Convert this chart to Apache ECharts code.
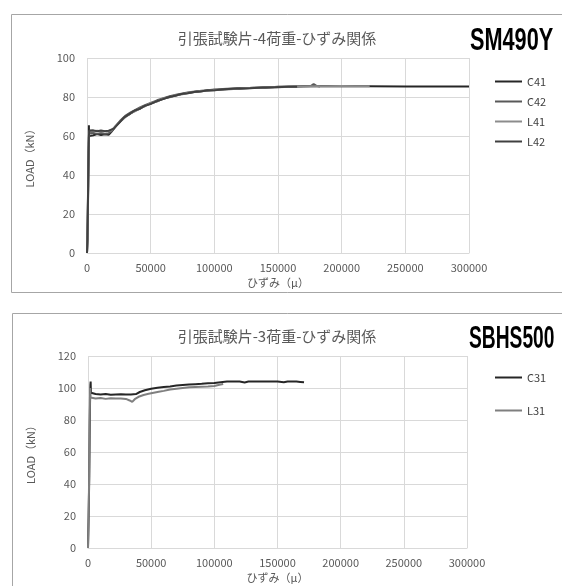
<!DOCTYPE html>
<html>
<head>
<meta charset="utf-8">
<script src="https://cdn.jsdelivr.net/npm/echarts@6/dist/echarts.min.js"></script>
<style>
html,body{margin:0;padding:0;background:#fff;}
#c{width:562px;height:586px;}
</style>
</head>
<body>
<div id="c"></div>
<script>
// ---- Data ----
const xTicks = [0, 50000, 100000, 150000, 200000, 250000, 300000];
const topTitle = '引張試験片-4荷重-ひずみ関係';
const bottomTitle = '引張試験片-3荷重-ひずみ関係';
const topTag = 'SM490Y';
const bottomTag = 'SBHS500';
const xName = 'ひずみ（μ）';
const yName = 'LOAD（kN）';
const topNames = ['C41', 'C42', 'L41', 'L42'];
const bottomNames = ['C31', 'L31'];

const C41 = [[0,0],[300,6],[600,20],[900,36],[1200,50],[1400,58],[1500,65.5],[1600,60],[2500,60.8],[5000,60.4],[8000,61],[11000,60.5],[14000,60.9],[17000,60.6],[19000,62],[22000,64.6],[26000,67.3],[30000,69.9],[34000,71.4],[38000,73.1],[42000,74.1],[46000,75.7],[50000,76.5],[55000,77.9],[60000,79.1],[65000,80.1],[70000,80.8],[75000,81.6],[80000,82.1],[85000,82.7],[90000,82.9],[95000,83.4],[100000,83.5],[110000,84.1],[120000,84.2],[130000,84.8],[140000,84.7],[150000,85.2],[160000,85.3],[170000,85.5],[180000,85.6],[200000,85.5],[220000,85.5],[250000,85.4],[280000,85.4],[300000,85.4]];
const C42 = [[0,0],[400,8],[700,22],[1000,38],[1300,52],[1500,59],[1800,61.5],[2500,61.2],[5000,61.6],[8000,61.1],[11000,61.5],[14000,61.2],[17000,61.4],[19500,62.6],[22500,65],[26000,67.8],[30000,70.3],[34000,72],[38000,73.4],[42000,74.8],[46000,75.9],[50000,77],[55000,78.3],[60000,79.4],[65000,80.4],[70000,81.2],[75000,81.8],[80000,82.4],[85000,82.8],[90000,83.2],[95000,83.5],[100000,83.8],[110000,84.2],[120000,84.6],[130000,84.6],[140000,85],[150000,85.1],[160000,85.4],[170000,85.5],[176000,85.7],[178000,86.6],[180000,85.8],[183000,85.4]];
const L41 = [[0,0],[500,10],[800,25],[1100,40],[1400,55],[1700,61],[2000,62.6],[5000,62.4],[8000,62.7],[11000,62.3],[14000,62.6],[17000,62.5],[19000,62.8],[22000,64.8],[26000,67.5],[30000,69.6],[34000,71.6],[38000,72.8],[42000,74.5],[46000,75.4],[50000,76.8],[55000,77.7],[60000,79.3],[65000,79.9],[70000,81],[75000,81.4],[80000,82.3],[85000,82.5],[90000,83.1],[95000,83.2],[100000,83.7],[110000,83.9],[120000,84.4],[130000,84.6],[140000,84.9],[150000,85],[160000,85.2],[170000,85.4],[180000,85.5],[190000,85.5],[200000,85.6],[210000,85.5],[222000,85.5]];
const L42 = [[0,0],[350,7],[650,21],[950,37],[1250,51],[1500,60],[1800,62.8],[2500,62.5],[5000,62.9],[8000,62.4],[11000,62.8],[14000,62.5],[17000,62.7],[18500,62.4],[21000,63.8],[25000,66.6],[29000,69.4],[33000,71.2],[37000,72.9],[41000,73.9],[45000,75.3],[49000,76.2],[54000,77.6],[59000,78.8],[64000,79.9],[69000,80.6],[74000,81.5],[79000,81.9],[84000,82.6],[89000,82.8],[94000,83.3],[99000,83.4],[108000,84],[118000,84.3],[128000,84.5],[138000,84.9],[148000,85],[158000,85.3],[165000,85.3]];

const C31 = [[0,0],[500,20],[1000,45],[1300,70],[1600,90],[1900,102],[2100,104],[2300,97],[3000,96],[6000,96.2],[10000,96],[14000,96.3],[18000,95.8],[22000,96],[26000,96.1],[30000,95.9],[34000,96],[38000,96.2],[41000,97.5],[45000,98.6],[50000,99.5],[55000,100.1],[60000,100.6],[65000,101],[70000,101.5],[75000,101.9],[80000,102.2],[85000,102.4],[90000,102.6],[95000,102.9],[100000,103.1],[105000,103.6],[110000,104],[115000,104.1],[120000,104],[124000,103.5],[127000,104],[135000,104],[145000,104.1],[150000,104],[155000,103.6],[158000,104],[165000,104],[168000,103.8],[171000,103.6]];
const L31 = [[0,0],[400,15],[800,38],[1100,60],[1300,80],[1500,92],[1700,100],[1900,94],[3000,93.6],[6000,93.5],[10000,93.8],[14000,93.2],[18000,93.6],[22000,93.4],[26000,93.5],[30000,93.2],[33000,92.2],[35000,91.3],[37000,93],[40000,94.5],[44000,95.6],[48000,96.4],[52000,97],[56000,97.6],[60000,98.2],[65000,99],[70000,99.5],[75000,100],[80000,100.4],[85000,100.6],[90000,100.8],[95000,101],[100000,101.3],[104000,102],[107000,102.5]];

const topData = [C41, C42, L41, L42];
const bottomData = [C31, L31];
const topColors = ['#262626', '#595959', '#8c8c8c', '#404040'];
const bottomColors = ['#262626', '#7f7f7f'];

// ---- Chart ----
const FONT = '"Noto Sans CJK JP", "Noto Sans", sans-serif';
const chart = echarts.init(document.getElementById('c'), null, {renderer: 'canvas'});

function xAxisCfg(gi) {
  return {
    gridIndex: gi, type: 'value', min: 0, max: 300000, interval: 50000,
    name: xName, nameLocation: 'middle', nameGap: 24,
    nameTextStyle: {color: '#595959', fontSize: 11, fontFamily: FONT},
    axisLine: {show: true, lineStyle: {color: '#d9d9d9'}},
    axisTick: {show: false},
    axisLabel: {color: '#595959', fontSize: 11, fontFamily: FONT, margin: 9,
      formatter: v => String(v)},
    splitLine: {show: true, lineStyle: {color: '#d9d9d9', width: 1}}
  };
}
function yAxisCfg(gi, max) {
  return {
    gridIndex: gi, type: 'value', min: 0, max: max, interval: 20,
    name: yName, nameLocation: 'middle', nameGap: 52,
    nameTextStyle: {color: '#595959', fontSize: 11, fontFamily: FONT},
    axisLine: {show: false}, axisTick: {show: false},
    axisLabel: {color: '#595959', fontSize: 11, fontFamily: FONT, margin: 12,
      formatter: v => String(v)},
    splitLine: {show: true, lineStyle: {color: '#d9d9d9', width: 1}}
  };
}

const series = [];
topNames.forEach((n, i) => series.push({
  name: n, type: 'line', xAxisIndex: 0, yAxisIndex: 0, data: topData[i],
  symbol: 'none', lineStyle: {color: topColors[i], width: 2}, itemStyle: {color: topColors[i]},
  animation: false
}));
bottomNames.forEach((n, i) => series.push({
  name: n, type: 'line', xAxisIndex: 1, yAxisIndex: 1, data: bottomData[i],
  symbol: 'none', lineStyle: {color: bottomColors[i], width: 2}, itemStyle: {color: bottomColors[i]},
  animation: false
}));

const tagStyle = {fill: '#000', font: 'bold 31px "Liberation Sans", Arial, sans-serif', textVerticalAlign: 'top'};

chart.setOption({
  backgroundColor: '#fff',
  animation: false,
  graphic: [
    {type: 'rect', shape: {x: 11.5, y: 14.5, width: 560, height: 278}, style: {fill: 'none', stroke: '#a6a6a6', lineWidth: 1}},
    {type: 'rect', shape: {x: 12.5, y: 313.5, width: 560, height: 290}, style: {fill: 'none', stroke: '#a6a6a6', lineWidth: 1}},
    {type: 'text', x: 470, y: 26, scaleX: 0.70, style: Object.assign({text: topTag}, tagStyle)},
    {type: 'text', x: 469, y: 324, scaleX: 0.62, style: Object.assign({text: bottomTag}, tagStyle)}
  ],
  title: [
    {text: topTitle, left: 272, textAlign: 'center', top: 26, textStyle: {color: '#595959', fontSize: 15, fontWeight: 'normal', fontFamily: FONT}},
    {text: bottomTitle, left: 272, textAlign: 'center', top: 324, textStyle: {color: '#595959', fontSize: 15, fontWeight: 'normal', fontFamily: FONT}}
  ],
  legend: [
    {data: topNames, orient: 'vertical', left: 490, top: 71, icon: 'rect', itemWidth: 27, itemHeight: 2, itemGap: 9,
     textStyle: {color: '#404040', fontSize: 11, fontFamily: FONT}},
    {data: bottomNames, orient: 'vertical', left: 490, top: 367, icon: 'rect', itemWidth: 27, itemHeight: 2, itemGap: 22,
     textStyle: {color: '#404040', fontSize: 11, fontFamily: FONT}}
  ],
  grid: [
    {left: 87, right: 93, top: 58, height: 195},
    {left: 88, right: 95, top: 356, height: 192}
  ],
  xAxis: [xAxisCfg(0), xAxisCfg(1)],
  yAxis: [yAxisCfg(0, 100), yAxisCfg(1, 120)],
  series: series
});
</script>
</body>
</html>
